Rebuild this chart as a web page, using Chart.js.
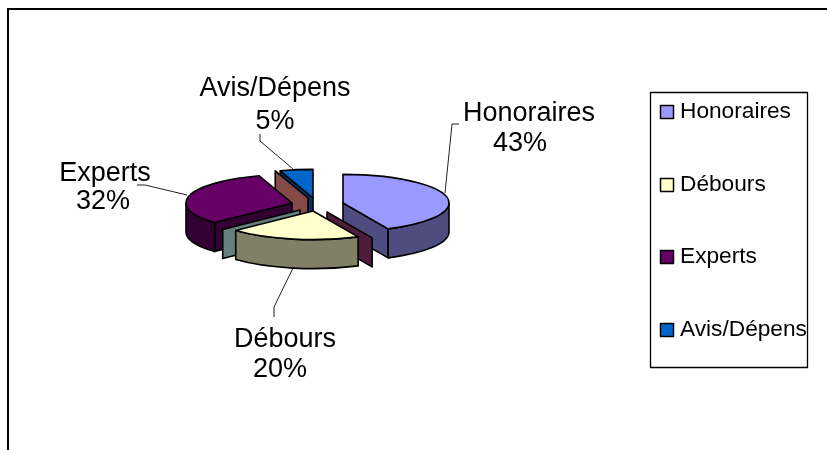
<!DOCTYPE html>
<html>
<head>
<meta charset="utf-8">
<style>
    html, body { margin: 0; padding: 0; background: #fff; }
    canvas { display: block; }
</style>
<script src="https://cdn.jsdelivr.net/npm/chart.js@4"></script>
</head>
<body>
<canvas id="pieChart" width="827" height="450"></canvas>
<script>
// chart data
var categories = ['Honoraires', 'Débours', 'Experts', 'Avis/Dépens'];
var percents = [43, 20, 32, 5];
var topColors = ['#9999FF', '#FFFFCC', '#660066', '#0066CC'];
var sideColors = ['#4D4D80', '#808066', '#330033', '#003366'];

var FONT = '"Liberation Sans", Arial, sans-serif';

// the pie is squashed and extruded to get the 3D look
var SQUASH = 0.27;
var DEPTH = 29;

// exploded slice shifts, same order as categories
var sliceShift = [[30, 0], [0, 8], [-21, 0], [0, -5]];

// loose inner walls of the original picture, each one sits on the start edge of a slice
var looseWalls = [
    { after: 3, edge: 3, shift: [-5, -5], color: '#844B47' },
    { after: 2, edge: 2, shift: [-13, 7], color: '#668080' },
    { after: 0, edge: 1, shift: [14, 9], color: '#4F1C3B' }
];

// back to front
var drawOrder = [3, 2, 0, 1];

// labels around the pie with leader lines
var labelSpots = [
    { x: 529, y: 121, px: 520, py: 151, line: [[459, 124], [452, 124], [445, 193]] },
    { x: 285, y: 347, px: 280, py: 377, line: [[293, 268], [274, 307], [274, 317]] },
    { x: 105, y: 181, px: 103, py: 209, line: [[137, 185], [145, 185], [187, 195]] },
    { x: 275, y: 96, px: 275, py: 129, line: [[260, 134], [260, 141], [293, 169]] }
];

var legendRows = [112, 185, 257, 330];

function drawWall(ctx, x, y, a, R, color) {
    var ex = x + R * Math.cos(a);
    var ey = y + R * SQUASH * Math.sin(a);
    ctx.beginPath();
    ctx.moveTo(x, y);
    ctx.lineTo(ex, ey);
    ctx.lineTo(ex, ey + DEPTH);
    ctx.lineTo(x, y + DEPTH);
    ctx.closePath();
    ctx.fillStyle = color;
    ctx.fill();
    ctx.stroke();
}

function drawSlice(ctx, arc, i) {
    var p = arc.getProps(['x', 'y', 'startAngle', 'endAngle', 'outerRadius'], true);
    var x = p.x + sliceShift[i][0];
    var y = p.y + sliceShift[i][1];
    var R = p.outerRadius;
    var Ry = R * SQUASH;

    // flat walls that face the viewer
    if (Math.cos(p.startAngle) < -0.001) {
        drawWall(ctx, x, y, p.startAngle, R, sideColors[i]);
    }
    if (Math.cos(p.endAngle) > 0.001) {
        drawWall(ctx, x, y, p.endAngle, R, sideColors[i]);
    }

    // rim, only the part in front
    var a0 = Math.max(p.startAngle, 0);
    var a1 = Math.min(p.endAngle, Math.PI);
    if (a1 > a0) {
        ctx.beginPath();
        ctx.ellipse(x, y, R, Ry, 0, a0, a1);
        ctx.ellipse(x, y + DEPTH, R, Ry, 0, a1, a0, true);
        ctx.closePath();
        ctx.fillStyle = sideColors[i];
        ctx.fill();
        ctx.stroke();
    }

    // top face
    ctx.beginPath();
    ctx.moveTo(x, y);
    ctx.ellipse(x, y, R, Ry, 0, p.startAngle, p.endAngle);
    ctx.closePath();
    ctx.fillStyle = topColors[i];
    ctx.fill();
    ctx.stroke();
}

var pie3d = {
    id: 'pie3d',
    beforeDatasetsDraw: function(chart) {
        var ctx = chart.ctx;
        var arcs = chart.getDatasetMeta(0).data;

        // page frame, open on the right and at the bottom
        ctx.save();
        ctx.strokeStyle = '#000';
        ctx.lineWidth = 2;
        ctx.beginPath();
        ctx.moveTo(8, 450);
        ctx.lineTo(8, 9);
        ctx.lineTo(827, 9);
        ctx.stroke();

        ctx.lineWidth = 1.6;
        ctx.lineJoin = 'round';
        drawOrder.forEach(function(i) {
            drawSlice(ctx, arcs[i], i);
            looseWalls.forEach(function(w) {
                if (w.after !== i) return;
                var p = arcs[w.edge].getProps(['x', 'y', 'startAngle', 'outerRadius'], true);
                drawWall(ctx, p.x + w.shift[0], p.y + w.shift[1], p.startAngle, p.outerRadius, w.color);
            });
        });

        // leader lines and labels
        ctx.lineWidth = 1;
        ctx.strokeStyle = '#222';
        ctx.font = '27px ' + FONT;
        ctx.textAlign = 'center';
        ctx.textBaseline = 'alphabetic';
        categories.forEach(function(name, i) {
            var s = labelSpots[i];
            ctx.beginPath();
            s.line.forEach(function(pt, k) {
                if (k === 0) ctx.moveTo(pt[0], pt[1]);
                else ctx.lineTo(pt[0], pt[1]);
            });
            ctx.stroke();
            ctx.fillStyle = '#000';
            ctx.fillText(name, s.x, s.y);
            ctx.fillText(percents[i] + '%', s.px, s.py);
        });

        // legend
        ctx.strokeStyle = '#000';
        ctx.lineWidth = 1.3;
        ctx.strokeRect(650.5, 92.5, 157, 275);
        ctx.font = '22.7px ' + FONT;
        ctx.textAlign = 'left';
        categories.forEach(function(name, i) {
            var y = legendRows[i];
            ctx.fillStyle = topColors[i];
            ctx.fillRect(660.5, y - 6.5, 13, 13);
            ctx.lineWidth = 1.5;
            ctx.strokeRect(660.5, y - 6.5, 13, 13);
            ctx.fillStyle = '#000';
            ctx.fillText(name, 680, y + 6);
        });
        ctx.restore();

        // everything is drawn here, skip the flat pie
        return false;
    }
};

document.addEventListener('DOMContentLoaded', function() {
    var ctx = document.getElementById('pieChart').getContext('2d');
    new Chart(ctx, {
        type: 'pie',
        data: {
            labels: categories,
            datasets: [{
                data: percents,
                backgroundColor: topColors,
                borderWidth: 0
            }]
        },
        options: {
            responsive: false,
            animation: false,
            layout: {
                padding: { left: 207, right: 408, top: 97, bottom: 141 }
            },
            plugins: {
                legend: { display: false },
                tooltip: { enabled: false }
            }
        },
        plugins: [pie3d]
    });
});
</script>
</body>
</html>
